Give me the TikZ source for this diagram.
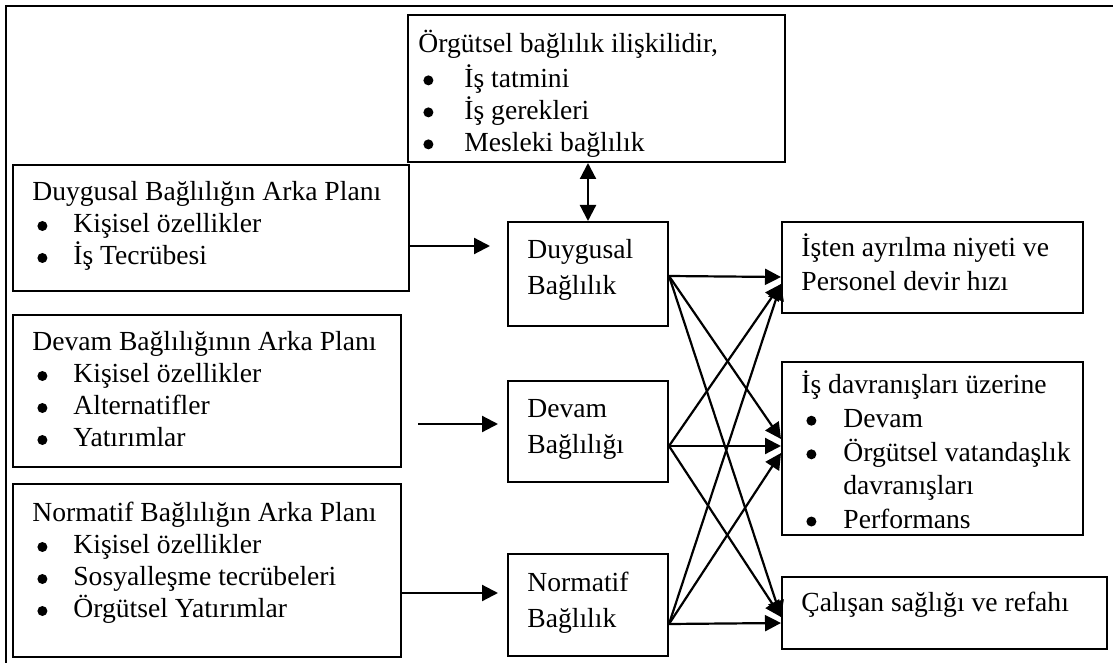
\documentclass[tikz,border=0pt]{standalone}
\usepackage{fontspec}
\setmainfont{Liberation Serif}
\usetikzlibrary{arrows.meta,fit}
% bullet item: a round dot inside a fixed-width indent, then the item text
\newcommand{\bul}[2]{\makebox[#1][l]{\hspace{2.5pt}\tikz[baseline=0pt]\fill (0pt,3.4pt) circle (2.5pt);}#2}
\begin{document}
\begin{tikzpicture}[x=0.5pt,y=-0.5pt,
  box/.style={draw, line width=1pt, inner sep=0pt},
  txt/.style={anchor=north west, inner sep=0pt, align=left,
    font=\fontsize{13.8}{16}\selectfont},
  tip/.tip={Triangle[length=8pt,width=8pt]},
  arr/.style={-tip, line width=1.1pt},
  darr/.style={tip-tip, line width=1.1pt}]
\useasboundingbox (0,0) rectangle (1113,663);

% outer frame (open at right and bottom)
\coordinate (fa) at (6,663);
\coordinate (fb) at (6,6);
\coordinate (fc) at (1113,6);
\draw[line width=1.3pt] (fa) -- (fb) -- (fc);

% boxes
\node[box, fit={(408,15)(785,162)}] (top) {};
\node[box, fit={(13,165)(409,291)}] (b1) {};
\node[box, fit={(13,315)(401,467)}] (b2) {};
\node[box, fit={(13,484)(401,657)}] (b3) {};
\node[box, fit={(508,222)(668,326)}] (m1) {};
\node[box, fit={(508,381)(668,482)}] (m2) {};
\node[box, fit={(508,554)(668,656)}] (m3) {};
\node[box, fit={(782,222)(1083,313)}] (r1) {};
\node[box, fit={(782,362)(1083,535)}] (r2) {};
\node[box, fit={(782,577)(1107,649)}] (r3) {};

% texts
\node[txt] (toptext) at (418,30) {\strut Örgütsel bağlılık ilişkilidir,\\
  \bul{23pt}{İş tatmini}\\ \bul{23pt}{İş gerekleri}\\ \bul{23pt}{Mesleki bağlılık}};
\node[txt] (b1text) at (32,178) {\strut Duygusal Bağlılığın Arka Planı\\
  \bul{20.5pt}{Kişisel özellikler}\\ \bul{20.5pt}{İş Tecrübesi}};
\node[txt] (b2text) at (32,328) {\strut Devam Bağlılığının Arka Planı\\
  \bul{20.5pt}{Kişisel özellikler}\\ \bul{20.5pt}{Alternatifler}\\ \bul{20.5pt}{Yatırımlar}};
\node[txt] (b3text) at (32,499) {\strut Normatif Bağlılığın Arka Planı\\
  \bul{20.5pt}{Kişisel özellikler}\\ \bul{20.5pt}{Sosyalleşme tecrübeleri}\\ \bul{20.5pt}{Örgütsel Yatırımlar}};
\node[txt, font=\fontsize{13.8}{18}\selectfont] (m1text) at (527,233) {\strut Duygusal\\ Bağlılık};
\node[txt, font=\fontsize{13.8}{18}\selectfont] (m2text) at (527,392) {\strut Devam\\ Bağlılığı};
\node[txt, font=\fontsize{13.8}{18}\selectfont] (m3text) at (527,566) {\strut Normatif\\ Bağlılık};
\node[txt, font=\fontsize{13.8}{17}\selectfont] (r1text) at (801,232) {\strut İşten ayrılma niyeti ve\\ Personel devir hızı};
\node[txt, font=\fontsize{13.8}{16.8}\selectfont] (r2text) at (801,370) {\strut İş davranışları üzerine\\
  \bul{21pt}{Devam}\\ \bul{21pt}{Örgütsel vatandaşlık}\\ \hspace*{21pt}davranışları\\ \bul{21pt}{Performans}};
\node[txt] (r3text) at (801,589) {\strut Çalışan sağlığı ve refahı};

% antecedent arrows
\coordinate (a1) at (490,246);
\coordinate (a2s) at (418,424);
\coordinate (a2) at (498,424);
\coordinate (a3) at (498,593);
\draw[arr] (b1.east |- a1) -- (a1);
\draw[arr] (a2s) -- (a2);
\draw[arr] (b3.east |- a3) -- (a3);

% link to correlates
\draw[darr] (top.south -| m1.north) -- (m1.north);

% consequences
\coordinate (s1) at (m1.east |- 0,276);
\coordinate (s2) at (m2.east |- 0,446);
\coordinate (s3) at (m3.east |- 0,624);
\coordinate (t1) at (r1.west |- 0,277);
\coordinate (t1b) at (r1.west |- 0,284);
\coordinate (t2a) at (r2.west |- 0,439);
\coordinate (t2) at (r2.west |- 0,446);
\coordinate (t2b) at (r2.west |- 0,453);
\coordinate (t3a) at (r3.west |- 0,617);
\coordinate (t3) at (r3.west |- 0,623);
\draw[arr] (s1) -- (t1);
\draw[arr] (s1) -- (t2a);
\draw[arr] (s1) -- (t3a);
\draw[arr] (s2) -- (t1b);
\draw[arr] (s2) -- (t2);
\draw[arr] (s2) -- (t3a);
\draw[arr] (s3) -- (t1b);
\draw[arr] (s3) -- (t2b);
\draw[arr] (s3) -- (t3);
\end{tikzpicture}
\end{document}
